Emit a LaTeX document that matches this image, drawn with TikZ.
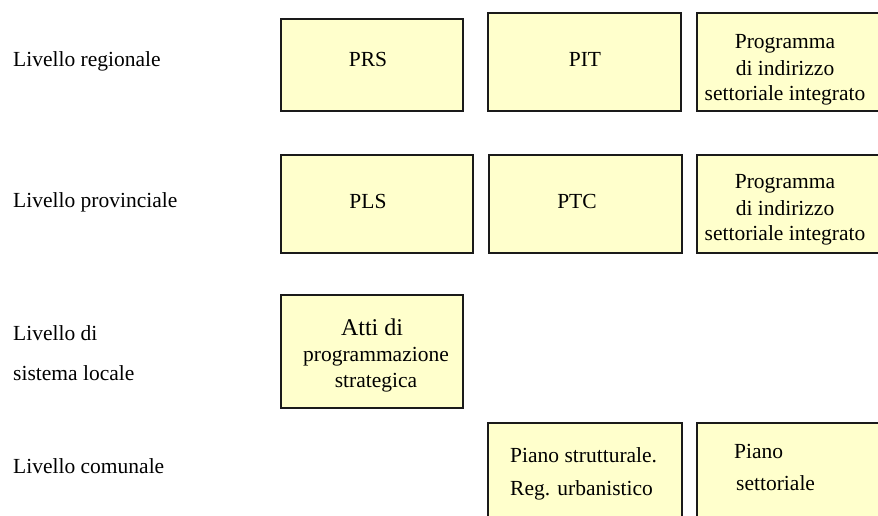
\documentclass[tikz,border=0pt]{standalone}
\usepackage{fontspec}
\setmainfont{Liberation Serif}
\definecolor{boxfill}{HTML}{FFFFCC}
\definecolor{boxline}{HTML}{1A1A1A}
\tikzset{
  pbox/.style={draw=boxline, line width=1.6pt, fill=boxfill},
  lvl/.style={anchor=base west, inner sep=0pt, font=\fontsize{21.5}{26}\selectfont},
  txt/.style={anchor=base, inner sep=0pt, font=\fontsize{21.5}{26}\selectfont},
  big/.style={anchor=base, inner sep=0pt, font=\fontsize{24}{29}\selectfont}
}
\begin{document}
\begin{tikzpicture}[x=1pt,y=-1pt]
\useasboundingbox (0,0) rectangle (878,515);
\clip (0,0) rectangle (878,515);
% row 1
\draw[pbox] (281,19) rectangle (463,111);
\draw[pbox] (488,13) rectangle (681,111);
\draw[pbox] (697,13) rectangle (885,111);
% row 2
\draw[pbox] (281,155) rectangle (473,253);
\draw[pbox] (489,155) rectangle (682,253);
\draw[pbox] (697,155) rectangle (885,253);
% row 3
\draw[pbox] (281,295) rectangle (463,408);
% row 4
\draw[pbox] (488,423) rectangle (682,530);
\draw[pbox] (697,423) rectangle (885,530);
% level labels
\node[lvl] (l1) at (13,66) {Livello regionale};
\node[lvl] (l2) at (13,207) {Livello provinciale};
\node[lvl] (l3a) at (13,340) {Livello di};
\node[lvl] (l3b) at (13,380) {sistema locale};
\node[lvl] (l4) at (13,473) {Livello comunale};
% row 1 texts
\node[txt] (prs) at (368,66) {PRS};
\node[txt] (pit) at (585,66) {PIT};
\node[txt] (pg1a) at (785,48) {Programma};
\node[txt] (pg1b) at (785,75) {di indirizzo};
\node[txt] (pg1c) at (785,100) {settoriale integrato};
% row 2 texts
\node[txt] (pls) at (368,208) {PLS};
\node[txt] (ptc) at (577,208) {PTC};
\node[txt] (pg2a) at (785,188) {Programma};
\node[txt] (pg2b) at (785,215) {di indirizzo};
\node[txt] (pg2c) at (785,240) {settoriale integrato};
% row 3 texts
\node[big] (atti) at (372,335) {Atti di};
\node[txt] (prog) at (376,361) {programmazione};
\node[txt] (strat) at (376,387) {strategica};
% row 4 texts
\node[lvl] (ps1) at (510,462) {Piano strutturale.};
\node[lvl] (ps2) at (510,495) {Reg. urbanistico};
\node[lvl] (pset1) at (734,458) {Piano};
\node[lvl] (pset2) at (736,490) {settoriale};
\end{tikzpicture}
\end{document}
